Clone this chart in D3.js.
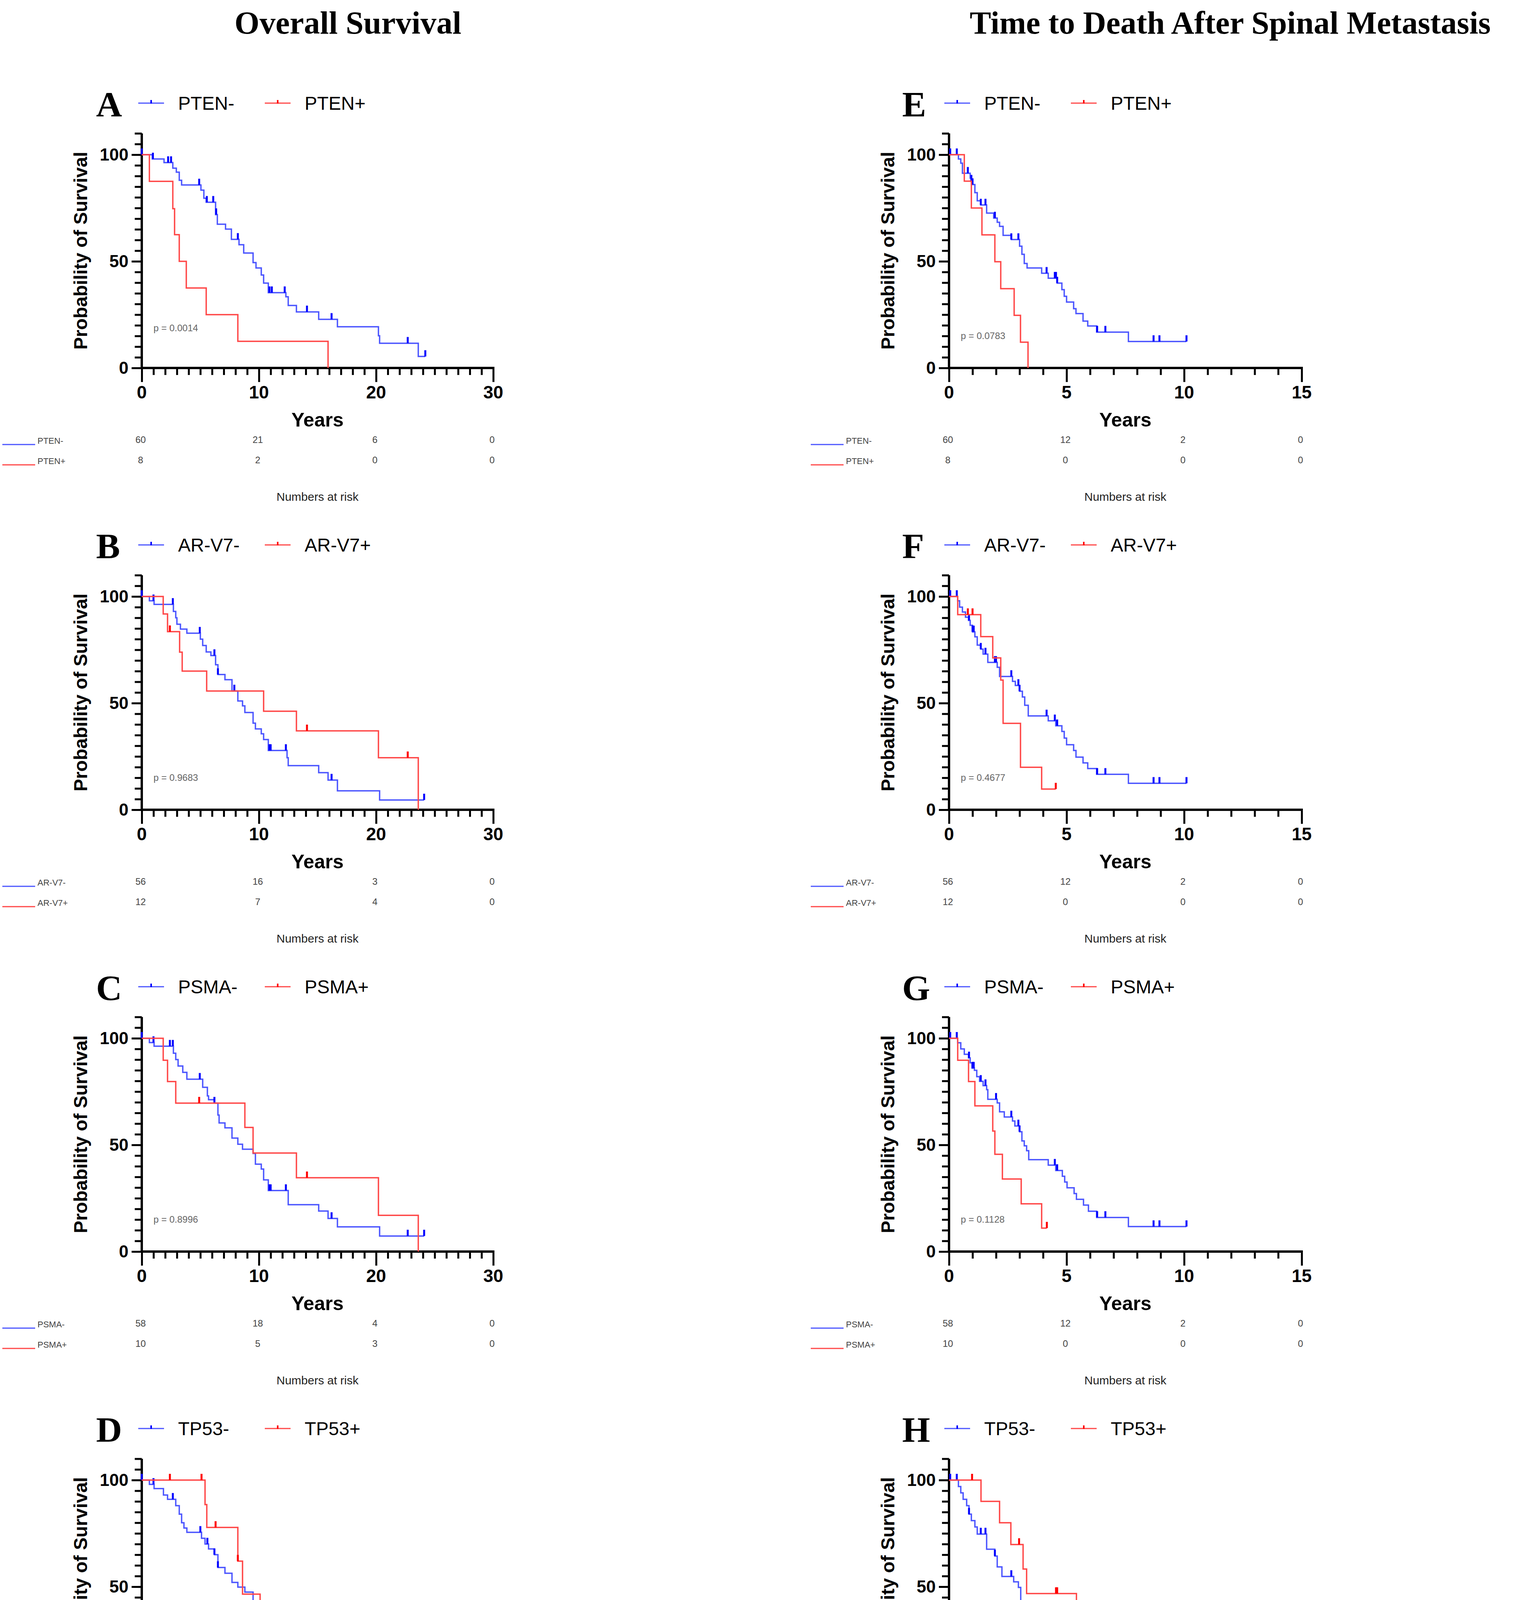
<!DOCTYPE html>
<html>
<head>
<meta charset="utf-8">
<script src="https://cdn.jsdelivr.net/npm/d3@7"></script>
<style>
  body { margin: 0; background: #fff; overflow: hidden; }
  svg { display: block; }
</style>
</head>
<body>
<div id="chart"></div>
<script>
// Kaplan-Meier steps: [time, survival after drop]; censor times; end of follow-up
const ptenOsNeg = [[0.9,98],[1.9,96.3],[2.65,93.7],[2.95,91.8],[3.2,88],[3.4,85.8],[5.05,83.4],[5.3,79.6],[5.5,77.7],[6.3,71.9],[6.45,67.4],[7.15,65.1],[7.65,60.3],[8.3,57.8],[8.7,53.9],[9.5,49.4],[9.75,46.9],[10.2,43.6],[10.4,39.8],[10.8,35.3],[12.3,33.4],[12.5,29.3],[13.2,26.3],[15.1,22.8],[16.7,19.3],[20.2,15.1],[20.3,11.6],[23.6,5.4]]
const ptenOsNegCensor = [0, 0.95, 2.25, 2.5, 4.9, 5.55, 6.1, 6.35, 8.2, 10.9, 11.1, 12.2, 14.1, 16.2, 22.7, 24.2]
const ptenOsPos = [[0.65,87.5],[2.65,74.7],[2.8,62.5],[3.2,50],[3.8,37.5],[5.5,25],[8.2,12.5],[15.9,0]]
const ptenOsPosCensor = []

const arOsNeg = [[0.65,98],[1.05,96.3],[2.7,93],[2.9,90],[3.0,87],[3.3,84.7],[3.85,82.8],[5.0,80],[5.2,77],[5.5,74],[5.9,72.3],[6.3,68],[6.5,63.4],[7.1,61],[7.7,55.7],[8.2,51],[8.6,48.7],[8.8,45.6],[9.5,40.6],[9.7,37.9],[10.2,35.6],[10.4,32.9],[10.8,27.8],[12.4,24.4],[12.5,20.7],[15.1,17.4],[15.9,13.9],[16.7,8.9],[20.3,4.6]]
const arOsNegCensor = [0, 1.0, 2.65, 4.95, 6.2, 6.5, 7.9, 10.9, 11.0, 12.3, 16.2, 24.1]
const arOsPos = [[1.83,91.8],[2.2,83.5],[3.23,73.9],[3.45,65],[5.54,55.7],[10.4,46.2],[13.2,37],[20.2,24.4],[23.6,0]]
const arOsPosCensor = [2.4, 14.1, 22.7]

const psmaOsNeg = [[0.65,98],[1.05,96.3],[2.7,93],[2.9,90],[3.1,87],[3.5,84],[3.85,80.8],[5.2,77],[5.6,73],[5.7,71.2],[6.2,69.6],[6.5,64],[6.6,60.3],[7.1,58],[7.7,53.2],[8.2,50.3],[8.6,48],[9.5,46],[9.7,41],[10.2,38.7],[10.4,33.6],[10.8,28.6],[12.5,22],[15.1,19],[15.9,15.5],[16.7,11.6],[20.3,7.3]]
const psmaOsNegCensor = [0, 1.0, 2.4, 2.65, 4.95, 6.2, 10.9, 11.0, 12.3, 16.2, 22.7, 24.1]
const psmaOsPos = [[1.83,89.7],[2.2,79.7],[2.9,69.6],[8.8,58.2],[9.5,46.2],[13.2,34.6],[20.2,17],[23.6,0]]
const psmaOsPosCensor = [4.9, 14.1]

const tp53OsNeg = [[0.65,98],[1.05,96],[1.85,93],[2.2,91],[2.9,88],[3.2,84],[3.4,80],[3.6,77.5],[3.85,75.5],[5.1,72.7],[5.4,70],[5.7,67.7],[6.2,65],[6.5,59],[7.1,56.3],[7.7,52],[8.2,49.8],[8.8,47.5],[9.5,43.3],[9.7,40.6],[10.4,36.4],[10.8,31.4],[12.4,25.7],[13.2,23],[15.1,19.4],[16.7,15.7],[20.3,7.9],[23.6,3.6]]
const tp53OsNegCensor = [0, 1.0, 2.65, 5.0, 5.6, 6.2, 6.5, 10.9, 11.0, 12.3, 14.1, 16.2, 24.1]
const tp53OsPos = [[5.4,88.5],[5.55,77.8],[8.2,62],[8.6,46.5],[10.1,31],[15.9,15.6]]
const tp53OsPosCensor = [2.4, 5.1, 6.3, 8.2, 22.7]

const ptenMetNeg = [[0.4,98],[0.5,96],[0.57,91.3],[0.9,89],[0.95,87.6],[1.0,86],[1.1,82.2],[1.2,78.4],[1.35,76.4],[1.6,72.6],[1.9,70.3],[2.05,68.3],[2.15,66.4],[2.3,62.2],[2.65,60.2],[3.0,57.1],[3.1,53.3],[3.2,49],[3.32,46.9],[3.94,44.4],[4.22,42.1],[4.6,39.8],[4.8,36.7],[4.9,33.6],[5.0,30.9],[5.3,27.8],[5.4,25.5],[5.7,22],[5.9,19.7],[6.28,16.8],[7.63,12.4]]
const ptenMetNegCensor = [0.05, 0.33, 0.8, 0.95, 1.0, 1.35, 1.55, 1.95, 2.65, 2.95, 4.15, 4.5, 4.55, 4.6, 6.3, 6.65, 8.7, 8.95, 10.1]
const ptenMetPos = [[0.65,87.6],[0.95,75],[1.4,62.4],[1.95,49.8],[2.2,37.2],[2.77,24.7],[3.04,12.1],[3.36,0]]
const ptenMetPosCensor = []

const arMetNeg = [[0.37,98],[0.45,95],[0.57,92.7],[0.7,90.3],[0.83,88.8],[0.9,86.5],[1.0,83.4],[1.1,81.1],[1.2,77.2],[1.35,75.3],[1.45,73],[1.65,69.1],[2.05,66.8],[2.15,62.5],[2.7,60.2],[2.82,58.3],[3.0,55.6],[3.12,52.9],[3.22,49],[3.37,44],[4.22,41.7],[4.54,39.4],[4.8,36.7],[4.9,33.6],[5.0,30.5],[5.3,27.8],[5.4,24.7],[5.7,22],[5.9,19.3],[6.28,16.6],[7.63,12.4]]
const arMetNegCensor = [0.05, 0.33, 0.85, 1.0, 1.05, 1.35, 1.55, 1.95, 2.0, 2.65, 2.95, 3.0, 4.15, 4.5, 4.6, 6.3, 6.65, 8.7, 8.95, 10.1]
const arMetPos = [[0.37,91.5],[1.35,81.2],[1.86,71.2],[2.2,60.8],[2.3,40.5],[3.04,19.9],[3.94,9.7]]
const arMetPosCensor = [0.8, 1.0, 4.54]

const psmaMetNeg = [[0.37,97.9],[0.5,95],[0.65,92.5],[0.83,90.8],[0.9,88.5],[0.98,86],[1.08,85],[1.18,82],[1.3,79.8],[1.45,77.8],[1.6,75.9],[1.65,71.4],[2.05,69.7],[2.15,65.5],[2.35,63.1],[2.7,61.2],[2.8,58.9],[3.0,56.2],[3.1,51.9],[3.2,49.6],[3.3,47.3],[3.39,43.1],[4.22,40.5],[4.54,38],[4.82,35.3],[4.92,32.6],[5.02,29.9],[5.32,27.2],[5.42,24.5],[5.72,21.8],[5.93,18.9],[6.28,16],[7.63,11.7]]
const psmaMetNegCensor = [0.05, 0.33, 0.85, 1.0, 1.05, 1.35, 1.55, 2.0, 2.65, 2.95, 3.0, 4.5, 4.6, 6.3, 6.65, 8.7, 8.95, 10.1]
const psmaMetPos = [[0.37,89.7],[0.83,79.7],[1.1,68.3],[1.86,56.5],[1.95,45.6],[2.27,34],[3.07,22.4],[3.94,11]]
const psmaMetPosCensor = [4.16]

const tp53MetNeg = [[0.4,97],[0.5,94],[0.6,91],[0.75,88],[0.85,84],[0.95,81],[1.1,78],[1.2,74.7],[1.6,67.6],[1.95,64.4],[2.05,59.3],[2.25,54.8],[2.75,52.3],[2.95,49.7],[3.05,42],[3.25,38.8],[3.95,36.3],[4.2,33.7],[4.65,31.2],[4.9,27.3],[5.0,24.8],[5.3,22.2],[5.7,19.6],[5.93,17],[6.25,14.5],[7.63,11]]
const tp53MetNegCensor = [0.05, 0.33, 0.85, 1.35, 1.55, 1.95, 2.65, 4.15, 6.65, 8.7, 8.95, 10.1]
const tp53MetPos = [[1.36,90],[2.15,80],[2.63,69.8],[3.15,58.3],[3.3,46.8],[5.42,0]]
const tp53MetPosCensor = [0.98, 2.98, 4.55, 4.6]

// numbers at risk at each major tick
const riskLeft = {
  pten: [[60, 21, 6, 0], [8, 2, 0, 0]],
  ar: [[56, 16, 3, 0], [12, 7, 4, 0]],
  psma: [[58, 18, 4, 0], [10, 5, 3, 0]],
  tp53: [[57, 19, 5, 0], [11, 4, 2, 0]]
}
const riskRight = {
  pten: [[60, 12, 2, 0], [8, 0, 0, 0]],
  ar: [[56, 12, 2, 0], [12, 0, 0, 0]],
  psma: [[58, 12, 2, 0], [10, 0, 0, 0]],
  tp53: [[57, 11, 2, 0], [11, 2, 0, 0]]
}
const markers = ['PTEN', 'AR-V7', 'PSMA', 'TP53']
const markerKeys = ['pten', 'ar', 'psma', 'tp53']
const letters = [['A', 'B', 'C', 'D'], ['E', 'F', 'G', 'H']]
const pValues = [['0.0014', '0.9683', '0.8996', '0.2710'], ['0.0783', '0.4677', '0.1128', '0.1486']]
const curves = [
  [[ptenOsNeg, ptenOsNegCensor, 24.2], [ptenOsPos, ptenOsPosCensor, 15.9]],
  [[arOsNeg, arOsNegCensor, 24.1], [arOsPos, arOsPosCensor, 23.6]],
  [[psmaOsNeg, psmaOsNegCensor, 24.1], [psmaOsPos, psmaOsPosCensor, 23.6]],
  [[tp53OsNeg, tp53OsNegCensor, 24.1], [tp53OsPos, tp53OsPosCensor, 22.7]],
  [[ptenMetNeg, ptenMetNegCensor, 10.1], [ptenMetPos, ptenMetPosCensor, 3.36]],
  [[arMetNeg, arMetNegCensor, 10.1], [arMetPos, arMetPosCensor, 4.54]],
  [[psmaMetNeg, psmaMetNegCensor, 10.1], [psmaMetPos, psmaMetPosCensor, 4.16]],
  [[tp53MetNeg, tp53MetNegCensor, 10.1], [tp53MetPos, tp53MetPosCensor, 5.42]]
]

const W = 3892, H = 4705
const blue = '#4b55ff', blueDark = '#0000ff', red = '#ff4747'
const sans = 'Liberation Sans, Arial, sans-serif'
const serif = 'Liberation Serif, Times New Roman, serif'

const svg = d3.select('#chart').append('svg').attr('width', W).attr('height', H)

svg.append('text').attr('x', 891).attr('y', 86).attr('text-anchor', 'middle').attr('fill', '#000')
  .style('font-family', serif).style('font-weight', 'bold').style('font-size', '82px').text('Overall Survival')
svg.append('text').attr('x', 3150).attr('y', 86).attr('text-anchor', 'middle').attr('fill', '#000')
  .style('font-family', serif).style('font-weight', 'bold').style('font-size', '82px').text('Time to Death After Spinal Metastasis')

function kmPath(x, y, steps, end) {
  const pts = [[0, 100]]
  let prev = 100
  steps.forEach(([t, s]) => { pts.push([t, prev]); pts.push([t, s]); prev = s })
  const lastT = steps.length ? steps[steps.length - 1][0] : 0
  if (end > lastT) pts.push([end, prev])
  return d3.line().x(d => x(d[0])).y(d => y(d[1]))(pts)
}

function survAt(steps, t) {
  let s = 100
  steps.forEach(([st, v]) => { if (st <= t) s = v })
  return s
}

function drawPanel(col, row) {
  const xMax = col === 0 ? 30 : 15
  const x0 = col === 0 ? 363 : 2430
  const x1 = col === 0 ? 1263 : 3333
  const off = row * 1131
  const yBase = 942 + off
  const x = d3.scaleLinear().domain([0, xMax]).range([x0, x1])
  const y = d3.scaleLinear().domain([0, 100]).range([yBase, yBase - 546])
  const g = svg.append('g')
  const name = markers[row]
  const [neg, pos] = curves[col * 4 + row]

  // letter and legend
  const lx = col === 0 ? 246 : 2310
  g.append('text').attr('x', lx).attr('y', 298 + off).attr('fill', '#000')
    .style('font-family', serif).style('font-weight', 'bold').style('font-size', '92px').text(letters[col][row])
  const legX = col === 0 ? [354, 678] : [2418, 2742]
  const legC = [blue, red]
  const legT = [name + '-', name + '+']
  legX.forEach((lxx, i) => {
    g.append('line').attr('x1', lxx).attr('x2', lxx + 66).attr('y1', 264 + off).attr('y2', 264 + off)
      .attr('stroke', legC[i]).attr('stroke-width', 3)
    g.append('line').attr('x1', lxx + 33).attr('x2', lxx + 33).attr('y1', 256 + off).attr('y2', 265 + off)
      .attr('stroke', i ? '#ff0000' : blueDark).attr('stroke-width', 4)
    g.append('text').attr('x', lxx + 102).attr('y', 281 + off).attr('fill', '#000')
      .style('font-family', sans).style('font-size', '48px').text(legT[i])
  })

  // axes
  const ya = g.append('g').attr('transform', `translate(${x0},0)`)
  ya.call(d3.axisLeft(y).tickValues(d3.range(0, 111, 5)).tickSize(18).tickFormat(''))
  ya.select('.domain').remove()
  ya.append('line').attr('x1', 0).attr('x2', 0).attr('y1', yBase + 3).attr('y2', y(110)).attr('stroke', '#000').attr('stroke-width', 6)
  ya.selectAll('.tick line').attr('stroke-width', 5).attr('x2', d => d % 50 === 0 ? -26 : -18)
  ;[0, 50, 100].forEach(v => {
    ya.append('text').attr('x', -34).attr('y', y(v) + 15).attr('text-anchor', 'end').attr('fill', '#000')
      .style('font-family', sans).style('font-weight', 'bold').style('font-size', '44px').text(v)
  })
  const xa = g.append('g').attr('transform', `translate(0,${yBase})`)
  xa.call(d3.axisBottom(x).tickValues(d3.range(0, xMax + 1, 1)).tickSize(18).tickFormat(''))
  xa.select('.domain').remove()
  xa.append('line').attr('x1', x0 - 3).attr('x2', x1 + 3).attr('stroke', '#000').attr('stroke-width', 6)
  const majorStep = col === 0 ? 10 : 5
  xa.selectAll('.tick line').attr('stroke-width', 5).attr('y2', d => d % majorStep === 0 ? 36 : 18)
  d3.range(0, xMax + 1, majorStep).forEach(v => {
    xa.append('text').attr('x', x(v)).attr('y', 78).attr('text-anchor', 'middle').attr('fill', '#000')
      .style('font-family', sans).style('font-weight', 'bold').style('font-size', '46px').text(v)
  })
  g.append('text').attr('x', (x0 + x1) / 2).attr('y', yBase + 150).attr('text-anchor', 'middle').attr('fill', '#000')
    .style('font-family', sans).style('font-weight', 'bold').style('font-size', '50px').text('Years')
  g.append('text').attr('transform', `translate(${x0 - 140},${y(55)}) rotate(-90)`).attr('text-anchor', 'middle').attr('fill', '#000')
    .style('font-family', sans).style('font-weight', 'bold').style('font-size', '48px').text('Probability of Survival')

  // curves
  ;[[neg, blue, blueDark], [pos, red, '#ff0000']].forEach(([c, col1, col2]) => {
    const [steps, cens, end] = c
    g.append('path').attr('d', kmPath(x, y, steps, end)).attr('fill', 'none')
      .attr('stroke', col1).attr('stroke-width', 3.5)
    g.selectAll(null).data(cens).join('line')
      .attr('x1', d => x(d)).attr('x2', d => x(d))
      .attr('y1', d => y(survAt(steps, d)) - 16).attr('y2', d => y(survAt(steps, d)))
      .attr('stroke', col2).attr('stroke-width', 5)
  })

  g.append('text').attr('x', x0 + 30).attr('y', y(row === 0 && col === 0 ? 18.6 : 15) + 8)
    .style('font-family', sans).style('font-size', '24px').attr('fill', '#666').text('p = ' + pValues[col][row])

  // numbers at risk
  const risk = (col === 0 ? riskLeft : riskRight)[markerKeys[row]]
  const tx = col === 0 ? 6 : 2076
  ;[0, 1].forEach(i => {
    const ry = yBase + 196 + i * 52
    g.append('line').attr('x1', tx).attr('x2', tx + 84).attr('y1', ry).attr('y2', ry)
      .attr('stroke', legC[i]).attr('stroke-width', 3)
    g.append('text').attr('x', tx + 90).attr('y', ry - 2)
      .style('font-family', sans).style('font-size', '22px').attr('fill', '#444').text(legT[i])
    risk[i].forEach((n, j) => {
      g.append('text').attr('x', x(j * majorStep) - 3).attr('y', ry - 4).attr('text-anchor', 'middle')
        .style('font-family', sans).style('font-size', '24px').attr('fill', '#444').text(n)
    })
  })
  g.append('text').attr('x', (x0 + x1) / 2).attr('y', yBase + 340).attr('text-anchor', 'middle')
    .style('font-family', sans).style('font-size', '30px').attr('fill', '#222').text('Numbers at risk')
}

for (let c = 0; c < 2; c++) for (let r = 0; r < 4; r++) drawPanel(c, r)
</script>
</body>
</html>
